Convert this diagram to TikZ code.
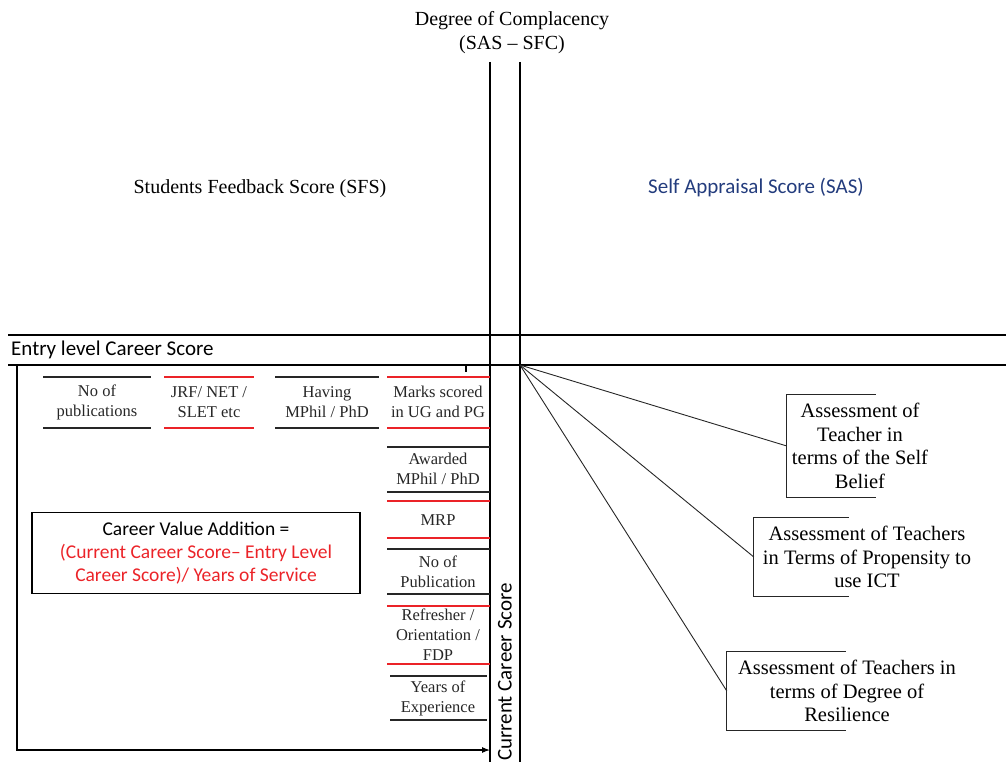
\documentclass[tikz,border=0pt]{standalone}
\usepackage{fontspec}
\setmainfont{Liberation Serif}
\newfontfamily\calibri[Ligatures=TeX]{Carlito}
\usetikzlibrary{arrows.meta}
\definecolor{sasblue}{RGB}{35,60,125}
\definecolor{lred}{RGB}{235,35,40}
\begin{document}
\begin{tikzpicture}[x=1pt,y=-1pt,
  axis/.style={line width=1.1pt, black},
  blk/.style={line width=1.1pt, black!85},
  rdl/.style={line width=1.1pt, lred},
  item/.style={align=center, font=\fontsize{16.5}{20}\selectfont, inner sep=0pt, text=black!85},
  assess/.style={align=center, font=\fontsize{20.5}{23.5}\selectfont, inner sep=0pt},
  title/.style={font=\fontsize{20}{24}\selectfont, inner sep=0pt, align=center},
  ctitle/.style={font=\calibri\fontsize{21}{24}\selectfont, inner sep=0pt}]
\useasboundingbox (0,0) rectangle (1006,762);

% titles
\node[title] (doc) at (512,33) {Degree of Complacency\\(SAS – SFC)};
\node[title] (sfs) at (260,189) {Students Feedback Score (SFS)};
\node[ctitle, text=sasblue] (sas) at (756,188) {Self Appraisal Score (SAS)};
\node[ctitle, anchor=west] (entry) at (11,350) {Entry level Career Score};

% axes
\draw[axis] (490,62) -- (490,762);
\draw[axis] (520,62) -- (520,762);
\draw[axis] (8,335) -- (1006,335);
\draw[axis] (8,365) -- (1006,365);
\draw[axis] (466,365) -- (466,372);
\coordinate (corner) at (520,365);
\coordinate (lb) at (17,365);
\coordinate (arr) at (490,750);
\draw[axis, -{Latex[length=8pt,width=6pt]}] (lb) |- (arr);

% top row items
\node[item] (pub) at (97,402) {No of\\publications};
\draw[blk] (43,377) -- (151,377) (43,428) -- (151,428);
\node[item] (jrf) at (209,402) {JRF/ NET /\\SLET etc};
\draw[rdl] (164,377) -- (254,377) (164,428) -- (254,428);
\node[item] (mphil) at (327,402) {Having\\MPhil / PhD};
\draw[blk] (275,377) -- (379,377) (275,428) -- (379,428);
\node[item] (marks) at (438,402) {Marks scored\\in UG and PG};
\draw[rdl] (387,377) -- (490,377) (387,428) -- (490,428);

% column items
\node[item] (awd) at (438,469) {Awarded\\MPhil / PhD};
\draw[blk] (387,447) -- (490,447) (387,492) -- (490,492);
\node[item] (mrp) at (438,520) {MRP};
\draw[rdl] (387,501) -- (490,501) (387,538) -- (490,538);
\node[item] (npub) at (438,572) {No of\\Publication};
\draw[blk] (387,549) -- (490,549) (387,594) -- (490,594);
\node[item] (ref) at (438,635) {Refresher /\\Orientation /\\FDP};
\draw[rdl] (387,606) -- (490,606) (387,664) -- (490,664);
\node[item] (yrs) at (438,698) {Years of\\Experience};
\draw[blk] (390,676) -- (487,676) (390,720) -- (487,720);

% current career score
\node[ctitle, rotate=90] (ccs) at (505,672) {Current Career Score};

% career value addition
\node[draw, line width=1.1pt, minimum width=328pt, minimum height=81pt, inner sep=0pt,
      align=center, font=\calibri\fontsize{19.5}{23}\selectfont] (cva) at (196,553)
  {Career Value Addition =\\\textcolor{lred}{(Current Career Score– Entry Level}\\\textcolor{lred}{Career Score)/ Years of Service}};

% assessment boxes
\node[assess, minimum width=146pt, minimum height=102pt] (a1) at (860,446)
  {Assessment of\\Teacher in\\terms of the Self\\Belief};
\draw[blk] ([xshift=89pt]a1.north west) -- (a1.north west) -- (a1.south west) -- ([xshift=89pt]a1.south west);
\node[assess, minimum width=226pt, minimum height=78pt] (a2) at (867,557)
  {Assessment of Teachers\\in Terms of Propensity to\\use ICT};
\draw[blk] ([xshift=95pt]a2.north west) -- (a2.north west) -- (a2.south west) -- ([xshift=95pt]a2.south west);
\node[assess, minimum width=240pt, minimum height=78pt] (a3) at (847,691)
  {Assessment of Teachers in\\terms of Degree of\\Resilience};
\draw[blk] ([xshift=119pt]a3.north west) -- (a3.north west) -- (a3.south west) -- ([xshift=119pt]a3.south west);

\draw[blk, line width=0.9pt] (corner) -- (a1.west);
\draw[blk, line width=0.9pt] (corner) -- (a2.west);
\draw[blk, line width=0.9pt] (corner) -- (a3.west);
\end{tikzpicture}
\end{document}
